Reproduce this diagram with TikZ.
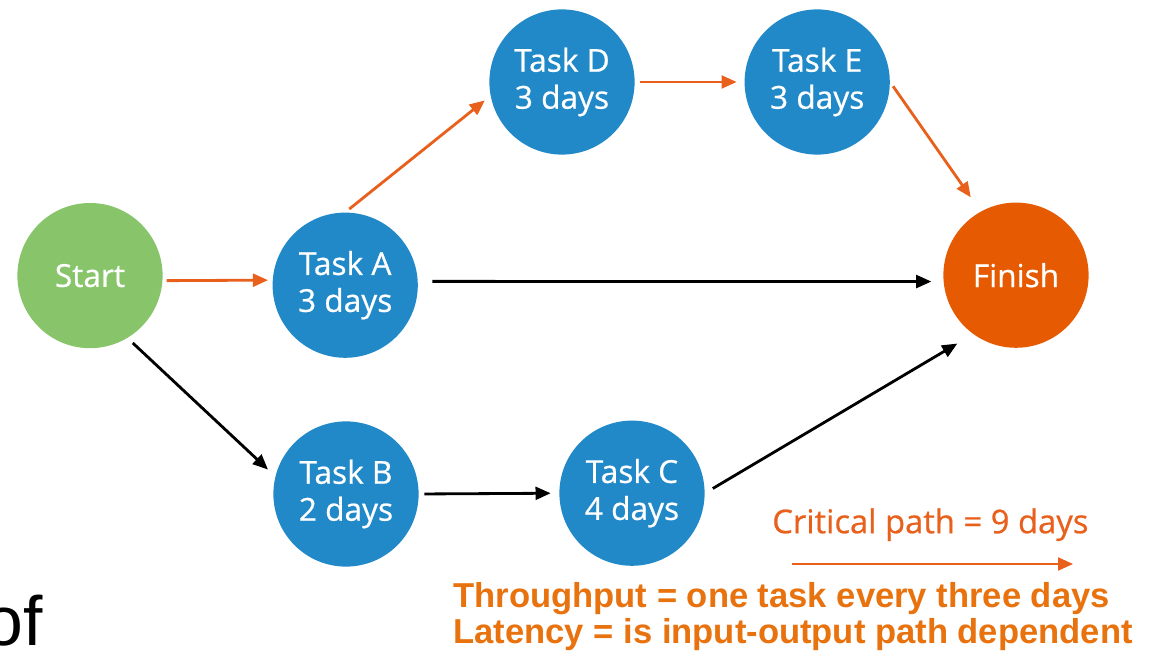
\documentclass[tikz,border=0pt]{standalone}
\usepackage{fontspec}
\setmainfont{Open Sans}[FakeBold=0.6]
\newfontfamily\arialfont{Liberation Sans}
\usetikzlibrary{arrows.meta}
\definecolor{taskblue}{HTML}{2289C8}
\definecolor{startgreen}{HTML}{88C56A}
\definecolor{finishorange}{HTML}{E65A02}
\definecolor{pathorange}{HTML}{E8601C}
\definecolor{noteorange}{HTML}{E8720E}

\begin{document}
\begin{tikzpicture}[
  font=\fontsize{22.5}{26.3}\selectfont,
  task/.style={circle, minimum size=3.63cm, inner sep=0pt, fill=taskblue, text=white, align=center},
  startnode/.style={task, fill=startgreen},
  endnode/.style={task, fill=finishorange},
  crit/.style={-{Triangle[length=3.8mm,width=3.2mm]}, draw=pathorange, line width=2pt},
  other/.style={-{Triangle[length=3.8mm,width=3.2mm]}, draw=black, line width=2pt},
  note/.style={text=noteorange, font=\arialfont\bfseries\fontsize{24.6}{26}\selectfont, anchor=base west, inner sep=0pt}
]
\useasboundingbox (0,0) rectangle (28.85,-16.35);

\node[startnode] (start)  at ( 2.25, -6.89) {Start};
\node[task]      (a)      at ( 8.63, -7.13) {Task A\\3 days};
\node[task]      (d)      at (14.05, -2.05) {Task D\\3 days};
\node[task]      (e)      at (20.43, -2.05) {Task E\\3 days};
\node[endnode]   (finish) at (25.40, -6.88) {Finish};
\node[task]      (b)      at ( 8.65,-12.35) {Task B\\2 days};
\node[task]      (c)      at (15.80,-12.33) {Task C\\4 days};

% critical path
\draw[crit, shorten <=1mm, shorten >=1.1mm] (start.-4) -- (a.176);
\draw[crit, shorten <=1.3mm, shorten >=1.8mm] (a.north) -- (d.191);
\draw[crit, shorten <=1.4mm, shorten >=1.9mm] (d.east) -- (e.west);
\draw[crit, shorten <=1.3mm, shorten >=4.3mm] (e.east) -- (finish.119);

% other paths
\draw[other, shorten <=3.6mm, shorten >=3mm] (a.3) -- (finish.185);
\draw[other, shorten <=1.8mm, shorten >=2.5mm] (start.-59) -- (b.166);
\draw[other, shorten <=1.4mm, shorten >=2.1mm] (b.east) -- (c.west);
\draw[other, shorten <=2.3mm, shorten >=4.6mm] (c.east) -- (finish.234);

% legend
\node[text=pathorange, anchor=base west, inner sep=0pt, font=\fontsize{23.3}{26}\selectfont] (critlabel) at (19.3,-13.33) {Critical path = 9 days};
\coordinate (critfrom) at (19.8,-14.1);
\coordinate (critto)   at (26.83,-14.1);
\draw[crit] (critfrom) -- (critto);

\node[note] (throughput) at (11.33,-15.18) {Throughput = one task every three days};
\node[note] (latency)    at (11.33,-16.10) {Latency = is input-output path dependent};

\node[anchor=base west, inner sep=0pt, font=\arialfont\fontsize{49.6}{50}\selectfont] (of) at (-0.4,-16.13) {of};
\end{tikzpicture}
\end{document}
